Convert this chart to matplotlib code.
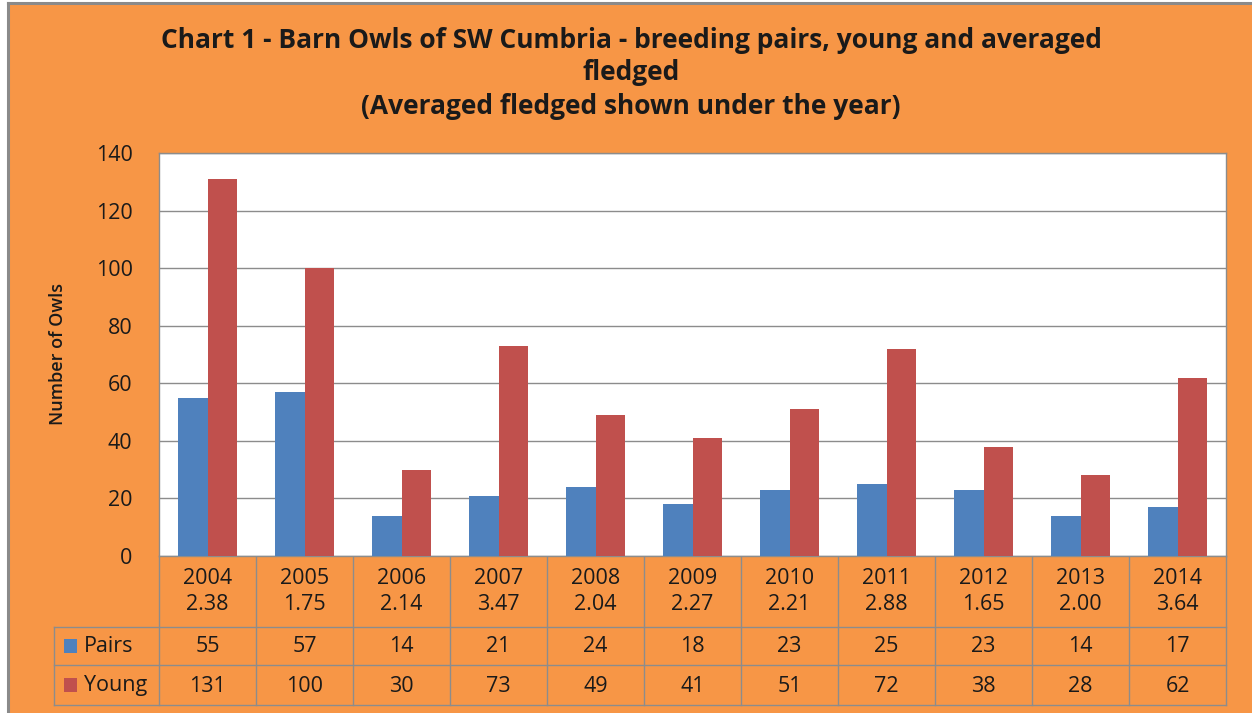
"""Barn Owls of SW Cumbria - bar chart with data table"""

import matplotlib
matplotlib.use("Agg")
import matplotlib.pyplot as plt
import matplotlib.patches as mpatches
import numpy as np

plt.rcParams["font.family"] = ["Open Sans", "DejaVu Sans"]

# data
years = ["2004", "2005", "2006", "2007", "2008", "2009", "2010", "2011", "2012", "2013", "2014"]
avg_fledged = ["2.38", "1.75", "2.14", "3.47", "2.04", "2.27", "2.21", "2.88", "1.65", "2.00", "3.64"]
pairs = [55, 57, 14, 21, 24, 18, 23, 25, 23, 14, 17]
young = [131, 100, 30, 73, 49, 41, 51, 72, 38, 28, 62]

ORANGE = "#F79646"
BLUE = "#4F81BD"
RED = "#C0504D"
GRID = "#8C8C8C"
TXT = "#1a1a1a"
FS = 15.5

W, H = 1252, 713


def fx(px):
    return px / W


def fy(py):
    return 1 - py / H


fig = plt.figure(figsize=(12.52, 7.13), dpi=100)
fig.patch.set_facecolor("white")

# orange background + grey frame (left/top)
fig.patches.append(mpatches.Rectangle((fx(8), 0), 1 - fx(8), fy(3), transform=fig.transFigure,
                                      facecolor=ORANGE, edgecolor="none", zorder=-10))
fig.add_artist(plt.Line2D([fx(8), fx(8)], [0, fy(3)], color="#8A8A8A", lw=2.2))
fig.add_artist(plt.Line2D([fx(8), 1], [fy(3), fy(3)], color="#8A8A8A", lw=2.2))

# title
title_lines = ["Chart 1 - Barn Owls of SW Cumbria - breeding pairs, young and averaged",
               "fledged",
               "(Averaged fledged shown under the year)"]
for ty, line in zip([41, 73, 107], title_lines):
    fig.text(fx(631), fy(ty), line, ha="center", va="center",
             fontsize=19, fontweight="bold", color=TXT)

L, R, T, B = 159, 1226, 153, 556
ax = fig.add_axes([fx(L), fy(B), fx(R) - fx(L), fy(T) - fy(B)])
ax.set_facecolor("white")
ax.set_zorder(5)

x = np.arange(len(years))
bw = 0.3
ax.bar(x - bw / 2, pairs, bw, color=BLUE, zorder=3)
ax.bar(x + bw / 2, young, bw, color=RED, zorder=3)

ax.set_xlim(-0.5, len(years) - 0.5)
ax.set_ylim(0, 140)
ax.set_yticks(range(0, 141, 20))
ax.tick_params(axis="y", length=0, labelsize=FS, pad=19, labelcolor=TXT)
ax.set_xticks([])
ax.grid(axis="y", color=GRID, lw=1.0, zorder=0)
for s in ax.spines.values():
    s.set_color(GRID)
    s.set_linewidth(1.0)

fig.text(fx(58), fy(354), "Number of Owls", rotation=90, ha="center", va="center",
         fontsize=13, fontweight="semibold", color=TXT)

# data table below the axis
tab_left = 54
for i, yr in enumerate(years):
    cx = ax.transData.transform((i, 0))[0] / fig.dpi / fig.get_figwidth()
    fig.text(cx, fy(578), yr, ha="center", va="center", fontsize=FS, color=TXT)
    fig.text(cx, fy(605), avg_fledged[i], ha="center", va="center", fontsize=FS, color=TXT)
    fig.text(cx, fy(647), str(pairs[i]), ha="center", va="center", fontsize=FS, color=TXT)
    fig.text(cx, fy(686), str(young[i]), ha="center", va="center", fontsize=FS, color=TXT)

# vertical table lines at category boundaries
for b in np.arange(-0.5, len(years), 1.0):
    bx = ax.transData.transform((b, 0))[0] / fig.dpi / fig.get_figwidth()
    fig.add_artist(plt.Line2D([bx, bx], [fy(556), fy(705)], color=GRID, lw=1.0))
fig.add_artist(plt.Line2D([fx(tab_left), fx(tab_left)], [fy(627), fy(705)], color=GRID, lw=1.0))
for ry in [627, 665, 705]:
    fig.add_artist(plt.Line2D([fx(tab_left), fx(R)], [fy(ry), fy(ry)], color=GRID, lw=1.0))

# row headers with legend keys
for ry, lab, col in [(646, "Pairs", BLUE), (685, "Young", RED)]:
    fig.patches.append(mpatches.Rectangle((fx(64), fy(ry + 7)), fx(13), fy(ry - 7) - fy(ry + 7),
                                          transform=fig.transFigure, facecolor=col, edgecolor="none"))
    fig.text(fx(84), fy(ry), lab, ha="left", va="center", fontsize=FS, color=TXT)

plt.savefig("out.png", dpi=100, facecolor="white")
plt.close()
